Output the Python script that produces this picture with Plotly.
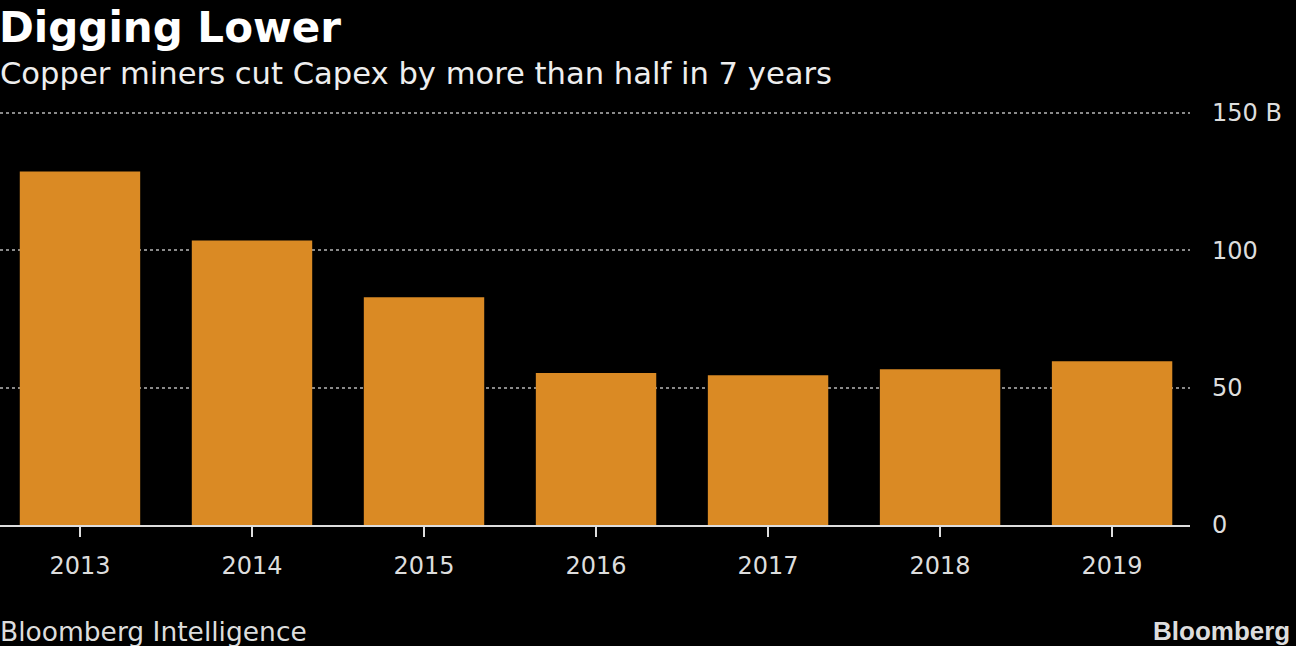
import plotly.graph_objects as go

years = ["2013", "2014", "2015", "2016", "2017", "2018", "2019"]
capex = [128.7, 103.6, 82.9, 55.3, 54.5, 56.7, 59.6]
y_ticks = [0, 50, 100, 150]
y_tick_labels = ["0", "50", "100", "150 B"]

FONT = "DejaVu Sans"
fig = go.Figure()
fig.add_trace(go.Bar(x=list(range(len(years))), y=capex, width=0.7,
                     marker=dict(color="#DA8A24", line=dict(width=0)),
                     hoverinfo="skip"))

TOP = 111
BOT = 525
PLOT_H = BOT - TOP
PX_PER_UNIT = (525 - 113) / 150.0
Y_MAX = 150 + (113 - TOP) / PX_PER_UNIT

def py(p):
    return (BOT - p) / PLOT_H

fig.update_layout(
    width=1296, height=646,
    paper_bgcolor="#000000", plot_bgcolor="#000000",
    margin=dict(l=0, r=106, t=TOP, b=646 - BOT),
    showlegend=False,
    font=dict(family=FONT, color="#DDDDDD"),
    xaxis=dict(range=[-0.465, 6.453], tickmode="array",
               tickvals=list(range(len(years))), ticktext=years,
               showgrid=False, zeroline=False,
               showline=True, linecolor="#DDDDDD", linewidth=1.5,
               ticks="outside", ticklen=10, tickcolor="#DDDDDD", tickwidth=1.5,
               ticklabelstandoff=8,
               tickfont=dict(size=24, color="#DDDDDD", family=FONT)),
    yaxis=dict(range=[0, Y_MAX], side="right", tickmode="array",
               tickvals=y_ticks, ticktext=y_tick_labels,
               showgrid=True, gridcolor="#8A8A8A", griddash="3px,3px", gridwidth=2,
               zeroline=False, showline=False, ticks="",
               ticklabelstandoff=21,
               tickfont=dict(size=24, color="#DDDDDD", family=FONT)),
)

fig.add_annotation(text="<b>Digging Lower</b>", xref="paper", yref="paper",
                   x=0, y=py(2), xanchor="left", yanchor="top", showarrow=False,
                   xshift=-2, borderpad=0,
                   font=dict(size=42, color="#FFFFFF", family=FONT))
fig.add_annotation(text="Copper miners cut Capex by more than half in 7 years",
                   xref="paper", yref="paper",
                   x=0, y=py(73), xanchor="left", yanchor="middle", showarrow=False,
                   xshift=-2,
                   font=dict(size=30.6, color="#EEEEEE", family=FONT))
fig.add_annotation(text="Bloomberg Intelligence", xref="paper", yref="paper",
                   x=0, y=py(631), xanchor="left", yanchor="middle", showarrow=False,
                   xshift=-2,
                   font=dict(size=26.5, color="#DDDDDD", family=FONT))
fig.add_annotation(text="<b>Bloomberg</b>", xref="paper", yref="paper",
                   x=1292 / 1190, y=py(631), xanchor="right", yanchor="middle",
                   showarrow=False,
                   font=dict(size=26, color="#DDDDDD", family="Liberation Sans"))

fig.write_html("out.html", config={"displayModeBar": False},
               post_script="document.body.style.margin='0';document.body.style.overflow='hidden';")
